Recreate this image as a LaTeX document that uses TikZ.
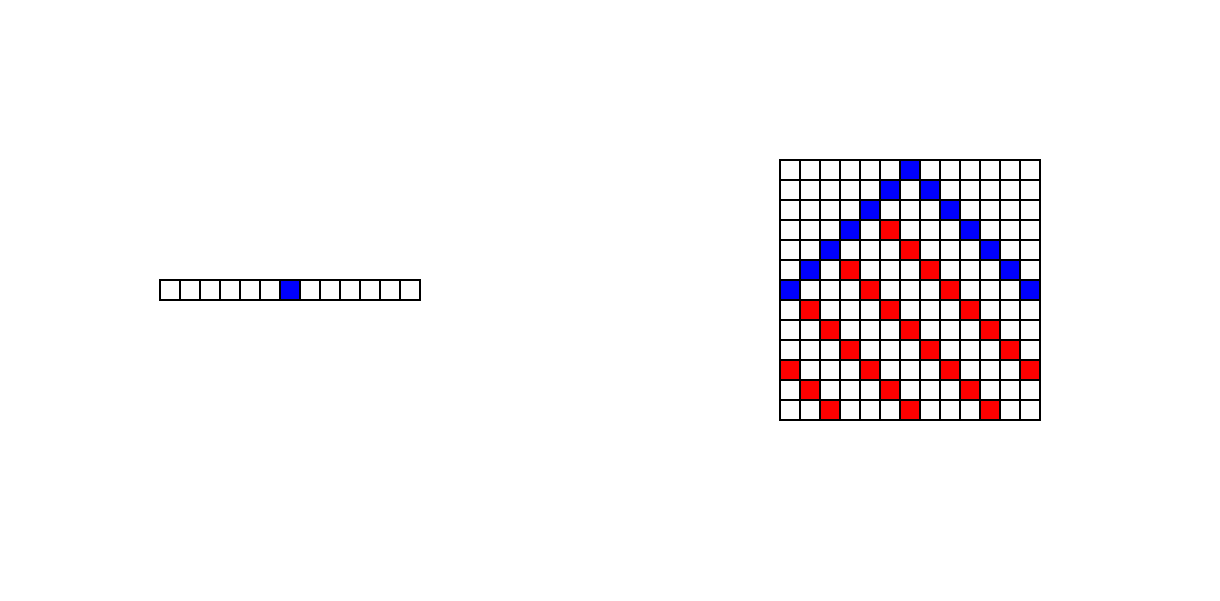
\documentclass[tikz,border=0pt]{standalone}
\usepackage{tikz}

\tikzset{
  cell/.style={draw=black, fill=white, minimum size=0.25cm, inner sep=0pt, outer sep=0pt},
  bluecell/.style={cell, fill=blue},
  redcell/.style={cell, fill=red}
}

\begin{document}
\begin{tikzpicture}[x=0.25cm, y=-0.25cm]
\useasboundingbox (0,0) rectangle (61,30);

% Single row
\foreach \i in {0,...,12}
  \node (row-\i) [cell] at (8.5+\i, 14.5) {};
\node (row-start) [bluecell] at (14.5, 14.5) {};

% Grid
\foreach \r in {0,...,12}
  \foreach \c in {0,...,12}
    \node (grid-\c-\r) [cell] at (39.5+\c, 8.5+\r) {};

% Blue cells
\foreach \c/\r in {6/0, 5/1, 7/1, 4/2, 8/2, 3/3, 9/3, 2/4, 10/4, 1/5, 11/5, 0/6, 12/6}
  \node (blue-\c-\r) [bluecell] at (39.5+\c, 8.5+\r) {};

% Red cells
\foreach \c/\r in {5/3, 6/4, 3/5, 7/5, 4/6, 8/6, 1/7, 5/7, 9/7, 2/8, 6/8, 10/8,
    3/9, 7/9, 11/9, 0/10, 4/10, 8/10, 12/10, 1/11, 5/11, 9/11, 2/12, 6/12, 10/12}
  \node (red-\c-\r) [redcell] at (39.5+\c, 8.5+\r) {};

\end{tikzpicture}
\end{document}
